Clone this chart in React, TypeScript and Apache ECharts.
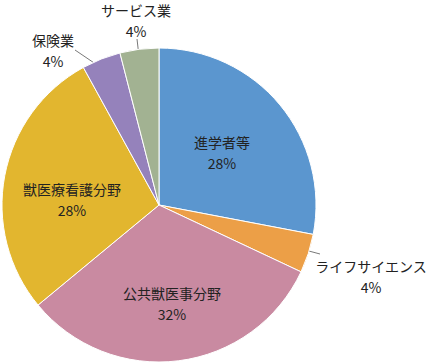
import React, { useEffect, useRef } from "react";
import * as echarts from "echarts";

const categories = ["進学者等", "ライフサイエンス", "公共獣医事分野", "獣医療看護分野", "保険業", "サービス業"];
const values = [28, 4, 32, 28, 4, 4];
const colors = ["#5b96cf", "#ec9f47", "#c98aa1", "#e2b62f", "#9582bb", "#a2b292"];
const insideLabel = [true, false, true, true, false, false];

// label centre positions (px) and leader line segments (px)
const labelAt: number[][] = [[222, 152], [371, 276], [172, 303], [72, 199], [53, 50], [136, 20]];
const leaderLines: (number[][] | null)[] = [
  null,
  [[294, 247], [320, 254]],
  null,
  null,
  [[106, 71], [75, 50]],
  [[140, 65], [137, 39]],
];

export default function App() {
  const ref = useRef<HTMLDivElement>(null);
  useEffect(() => {
    if (!ref.current) return;
    const chart = echarts.init(ref.current, null, { renderer: "svg" });
    chart.setOption({
      animation: false,
      backgroundColor: "#ffffff",
      series: [
        {
          type: "pie",
          center: [159, 205],
          radius: [0, 157],
          startAngle: 90,
          clockwise: true,
          avoidLabelOverlap: false,
          itemStyle: { borderColor: "#ffffff", borderWidth: 1 },
          label: {
            formatter: "{b}\n{c}%",
            fontFamily: "Noto Sans CJK JP",
            fontSize: 14,
            lineHeight: 21,
            color: "#222222",
          },
          labelLine: { lineStyle: { color: "#555555", width: 0.8 } },
          labelLayout: (params: any) => {
            const i = params.dataIndex;
            const out: any = { x: labelAt[i][0], y: labelAt[i][1], align: "center", verticalAlign: "middle" };
            if (leaderLines[i]) out.labelLinePoints = leaderLines[i];
            return out;
          },
          data: categories.map((name, i) => ({
            name,
            value: values[i],
            itemStyle: { color: colors[i] },
            label: { position: insideLabel[i] ? "inside" : "outside" },
            labelLine: { show: !insideLabel[i] },
          })),
        },
      ],
    });
    return () => chart.dispose();
  }, []);
  return <div ref={ref} style={{ position: "fixed", left: 0, top: 0, width: 432, height: 364 }} />;
}
